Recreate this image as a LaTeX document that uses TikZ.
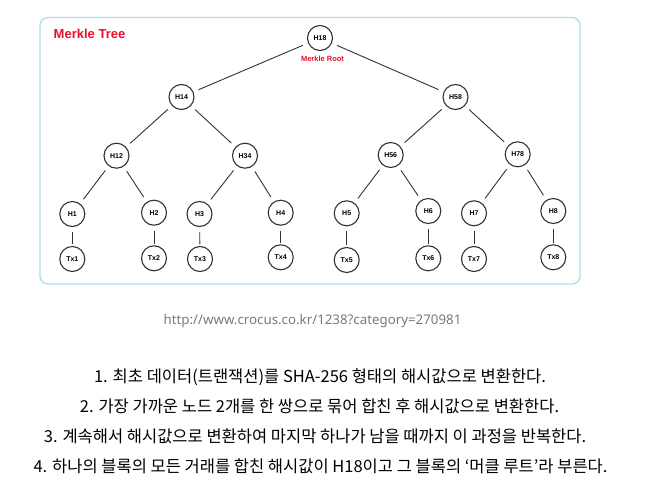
\documentclass[tikz,border=0pt]{standalone}
\usepackage{fontspec}
\setmainfont{Noto Sans}
\newfontfamily\kr{Noto Sans CJK KR}
\newfontfamily\lbl{Liberation Sans}
\definecolor{boxblue}{HTML}{AEDFEB}
\definecolor{mred}{HTML}{E8102A}
\definecolor{ink}{HTML}{333333}
\definecolor{urlgray}{HTML}{7A7A7A}
\begin{document}
\begin{tikzpicture}[x=1pt,y=-1pt,
  hnode/.style={circle,draw=ink,line width=1.1pt,minimum size=25pt,inner sep=0pt,font=\lbl\bfseries\fontsize{7}{8}\selectfont,text=black},
  link/.style={draw=ink,line width=0.9pt,shorten <=5.5pt,shorten >=5.5pt},
  leaf/.style={draw=ink,line width=0.9pt,shorten <=5pt,shorten >=1.5pt},
  desc/.style={font=\kr\fontsize{16.5}{19}\selectfont,text=black,anchor=center}]
\useasboundingbox (0,0) rectangle (654,490);
\fill[white] (0,0) rectangle (654,490);
\draw[boxblue,line width=1.4pt,rounded corners=8pt] (40,17.5) rectangle (580,284);
\node[font=\lbl\bfseries\fontsize{13}{14}\selectfont,text=mred] (title) at (89.5,34) {Merkle Tree};
% nodes
\node[hnode] (h18) at (320,38) {H18};
\node[font=\lbl\bfseries\fontsize{7.5}{8}\selectfont,text=mred] (root) at (322.5,59.3) {Merkle Root};
\node[hnode] (h14) at (181.5,97) {H14};
\node[hnode] (h58) at (455.5,97) {H58};
\node[hnode] (h12) at (116.5,155.7) {H12};
\node[hnode] (h34) at (245,155.7) {H34};
\node[hnode] (h56) at (390.7,155) {H56};
\node[hnode] (h78) at (517.7,154.3) {H78};
\node[hnode] (h1) at (72.3,214) {H1};
\node[hnode] (h2) at (154,212.7) {H2};
\node[hnode] (h3) at (199.5,214) {H3};
\node[hnode] (h4) at (280.7,212.7) {H4};
\node[hnode] (h5) at (346.7,213.3) {H5};
\node[hnode] (h6) at (428.3,211) {H6};
\node[hnode] (h7) at (474,213.3) {H7};
\node[hnode] (h8) at (553.3,211) {H8};
\node[hnode] (t1) at (72.3,259) {Tx1};
\node[hnode] (t2) at (154,258.3) {Tx2};
\node[hnode] (t3) at (200,259) {Tx3};
\node[hnode] (t4) at (280.7,257.3) {Tx4};
\node[hnode] (t5) at (346.7,260) {Tx5};
\node[hnode] (t6) at (428.3,258.3) {Tx6};
\node[hnode] (t7) at (474,259) {Tx7};
\node[hnode] (t8) at (553.3,257.3) {Tx8};
% links
\draw[link] (h18) -- (h14);
\draw[link] (h18) -- (h58);
\draw[link] (h14) -- (h12);
\draw[link] (h14) -- (h34);
\draw[link] (h58) -- (h56);
\draw[link] (h58) -- (h78);
\draw[link] (h12) -- (h1);
\draw[link] (h12) -- (h2);
\draw[link] (h34) -- (h3);
\draw[link] (h34) -- (h4);
\draw[link] (h56) -- (h5);
\draw[link] (h56) -- (h6);
\draw[link] (h78) -- (h7);
\draw[link] (h78) -- (h8);
\draw[leaf] (h1) -- (t1);
\draw[leaf] (h2) -- (t2);
\draw[leaf] (h3) -- (t3);
\draw[leaf] (h4) -- (t4);
\draw[leaf] (h5) -- (t5);
\draw[leaf] (h6) -- (t6);
\draw[leaf] (h7) -- (t7);
\draw[leaf] (h8) -- (t8);
% texts
\node[font=\fontsize{13.3}{15}\selectfont,text=urlgray] (url) at (312.5,321) {http://www.crocus.co.kr/1238?category=270981};
\node[desc] (l1) at (320,377) {1. 최초 데이터(트랜잭션)를 SHA-256 형태의 해시값으로 변환한다.};
\node[desc] (l2) at (319.5,406) {2. 가장 가까운 노드 2개를 한 쌍으로 묶어 합친 후 해시값으로 변환한다.};
\node[desc] (l3) at (315,436) {3. 계속해서 해시값으로 변환하여 마지막 하나가 남을 때까지 이 과정을 반복한다.};
\node[desc] (l4) at (320.5,466) {4. 하나의 블록의 모든 거래를 합친 해시값이 H18이고 그 블록의 ‘머클 루트’라 부른다.};
\end{tikzpicture}
\end{document}
